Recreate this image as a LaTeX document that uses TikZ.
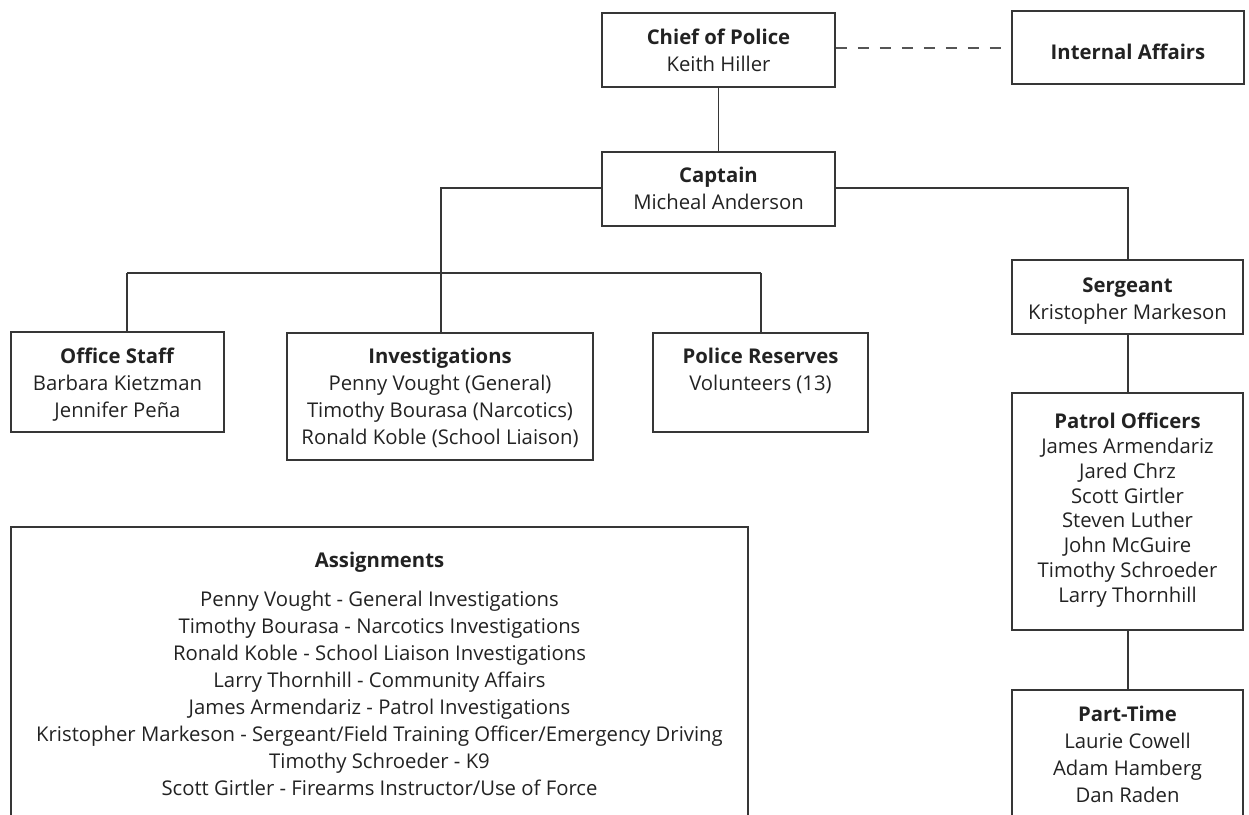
\documentclass[tikz,border=0pt]{standalone}
\usepackage{fontspec}
\setmainfont{Open Sans}
\definecolor{ink}{HTML}{222222}
\definecolor{edge}{HTML}{363636}
\definecolor{dash}{HTML}{555555}
\newcommand\fsz{\fontsize{20.3}{27}\selectfont}
\newcommand\fsp{\fontsize{20.3}{24.8}\selectfont}
\tikzset{
  box/.style={draw=edge, line width=1.6pt, inner sep=0pt, rectangle},
  lbl/.style={anchor=north, inner sep=0pt, align=center, text=ink, font=\fsz, execute at begin node=\strut},
  plbl/.style={lbl, font=\fsp},
  conn/.style={draw=edge, line width=1.6pt},
  dconn/.style={draw=dash, line width=2pt, dash pattern=on 11pt off 11pt}
}
\begin{document}
\begin{tikzpicture}[x=1pt,y=-1pt]
\useasboundingbox (0,0) rectangle (1249,814);
\clip (0,0) rectangle (1249,814);
% boxes
\node[box, minimum width=233pt, minimum height=74pt] (chief) at (718.5,50) {};
\node[box, minimum width=232pt, minimum height=73pt] (ia) at (1128,47.5) {};
\node[box, minimum width=233pt, minimum height=74pt] (capt) at (718.5,189) {};
\node[box, minimum width=213pt, minimum height=100pt] (office) at (117.5,382) {};
\node[box, minimum width=306pt, minimum height=127pt] (inv) at (440,396.5) {};
\node[box, minimum width=215pt, minimum height=99pt] (res) at (760.5,382.5) {};
\node[box, minimum width=231pt, minimum height=74pt] (sgt) at (1127.5,297) {};
\node[box, minimum width=231pt, minimum height=237pt] (patrol) at (1127.5,511.5) {};
\node[box, minimum width=231pt, minimum height=160pt] (part) at (1127.5,770) {};
\node[box, minimum width=737pt, minimum height=320pt] (assign) at (379.5,687) {};
% texts
\node[lbl] (chiefT) at (718.5,29) {\textbf{Chief of Police}\\Keith Hiller};
\node[lbl] (iaT) at (1128,40.5) {\textbf{Internal Affairs}};
\node[lbl] (captT) at (718.5,167) {\textbf{Captain}\\Micheal Anderson};
\node[lbl] (officeT) at (117.5,348) {\textbf{Office Staff}\\Barbara Kietzman\\Jennifer Peña};
\node[lbl] (invT) at (440,348) {\textbf{Investigations}\\Penny Vought (General)\\Timothy Bourasa (Narcotics)\\Ronald Koble (School Liaison)};
\node[lbl] (resT) at (760.5,348) {\textbf{Police Reserves}\\Volunteers (13)};
\node[lbl] (sgtT) at (1127.5,278) {\textbf{Sergeant}\\Kristopher Markeson};
\node[plbl] (patrolT) at (1127.5,413) {\textbf{Patrol Officers}\\James Armendariz\\Jared Chrz\\Scott Girtler\\Steven Luther\\John McGuire\\Timothy Schroeder\\Larry Thornhill};
\node[lbl] (partT) at (1127.5,706) {\textbf{Part-Time}\\Laurie Cowell\\Adam Hamberg\\Dan Raden};
\node[lbl] (assignH) at (379.5,548) {\textbf{Assignments}};
\node[lbl] (assignT) at (379.5,591) {Penny Vought - General Investigations\\Timothy Bourasa - Narcotics Investigations\\Ronald Koble - School Liaison Investigations\\Larry Thornhill - Community Affairs\\James Armendariz - Patrol Investigations\\Kristopher Markeson - Sergeant/Field Training Officer/Emergency Driving\\Timothy Schroeder - K9\\Scott Girtler - Firearms Instructor/Use of Force};
% connectors
\coordinate (barL) at (127,273);
\coordinate (barR) at (761,273);
\coordinate (capL) at (441,188);
\coordinate (capR) at (1128,188);
\draw[dconn] (ia.west -| chief.east) -- (ia.west);
\draw[conn] (chief.south) -- (capt.north);
\draw[conn] (capt.west |- capL) -- (capL) -- (capL |- inv.north);
\draw[conn] (barL) -- (barR);
\draw[conn] (barL) -- (barL |- office.north);
\draw[conn] (barR) -- (barR |- res.north);
\draw[conn] (capt.east |- capR) -- (capR) -- (capR |- sgt.north);
\draw[conn] (sgt.south -| capR) -- (patrol.north -| capR);
\draw[conn] (patrol.south -| capR) -- (part.north -| capR);
\end{tikzpicture}
\end{document}
